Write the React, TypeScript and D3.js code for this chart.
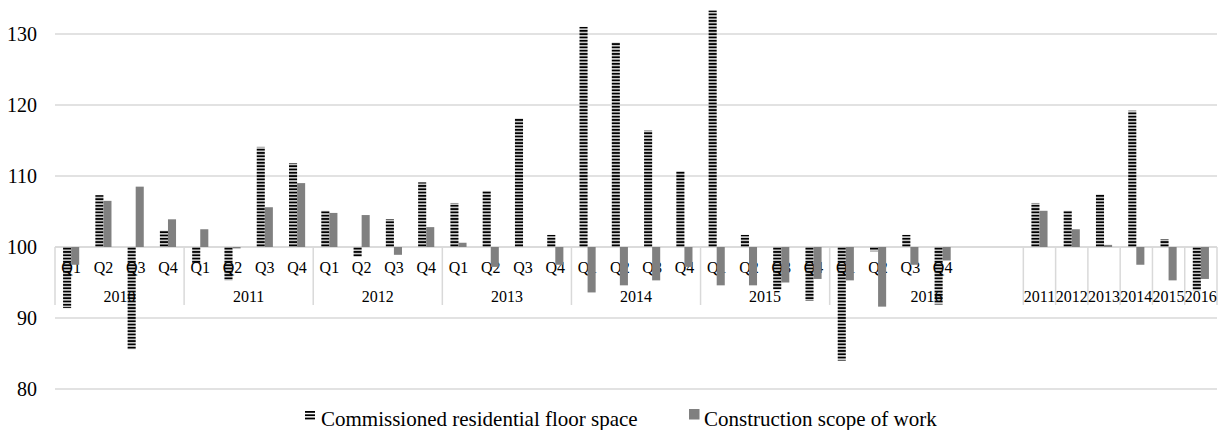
import React from "react";
import * as d3 from "d3";

const quarterLabels = ["Q1", "Q2", "Q3", "Q4"];
const quarterYears = ["2010", "2011", "2012", "2013", "2014", "2015", "2016"];
const annualYears = ["2011", "2012", "2013", "2014", "2015", "2016"];

// Quarterly indices (2010 Q1 ... 2016 Q4)
const commissionedQ = [
  91.4, 107.3, 85.6, 102.3,
  97.7, 95.3, 114.1, 111.8,
  105.1, 98.6, 103.9, 109.1,
  106.2, 107.9, 118.1, 101.7,
  131.0, 128.8, 116.4, 110.7,
  133.3, 101.7, 94.0, 92.4,
  84.0, 99.4, 101.7, 91.9,
];
const constructionQ = [
  97.5, 106.5, 108.5, 103.9,
  102.5, 99.8, 105.6, 109.0,
  104.8, 104.5, 98.9, 102.8,
  100.6, 97.2, 100.0, 97.5,
  93.6, 94.6, 95.3, 97.2,
  94.6, 94.6, 95.0, 95.5,
  95.3, 91.6, 97.5, 98.1,
];
// Annual indices 2011 ... 2016
const commissionedA = [106.2, 105.1, 107.4, 119.2, 101.1, 93.9];
const constructionA = [105.1, 102.5, 100.3, 97.5, 95.3, 95.5];

const yTicks = [80, 90, 100, 110, 120, 130];
const seriesNames = ["Commissioned residential floor space", "Construction scope of work"];
const blankSlots = 2;

type Cat = { id: string; q: string; v1: number | null; v2: number | null };

const cats: Cat[] = [];
quarterYears.forEach((yr, yi) => {
  quarterLabels.forEach((q, qi) => {
    const i = yi * 4 + qi;
    cats.push({ id: `${yr}-${q}`, q, v1: commissionedQ[i], v2: constructionQ[i] });
  });
});
for (let b = 0; b < blankSlots; b++) cats.push({ id: `blank-${b}`, q: "", v1: null, v2: null });
annualYears.forEach((yr, i) => {
  cats.push({ id: `A-${yr}`, q: "", v1: commissionedA[i], v2: constructionA[i] });
});

const TS = { fontFamily: "Liberation Serif" };

export default function App() {
  const W = 1222;
  const H = 430;
  const left = 55;
  const right = 1217;

  const x = d3.scaleBand<string>().domain(cats.map((c) => c.id)).range([left, right]).padding(0);
  const sub = d3
    .scaleBand<string>()
    .domain(["s1", "s2"])
    .range([0, x.bandwidth()])
    .paddingInner(0)
    .paddingOuter(1);
  const y = d3.scaleLinear().domain([80, 130]).range([389, 34]);
  const base = y(100);
  const step = x.step();
  const axisBottom = 305;

  // year groups
  const groups: { label: string; start: number; end: number }[] = [];
  quarterYears.forEach((yr, yi) => {
    const start = yi * 4;
    let end = start + 4;
    if (yi === quarterYears.length - 1) end += blankSlots;
    groups.push({ label: yr, start, end });
  });
  const annualStart = quarterYears.length * 4 + blankSlots;
  annualYears.forEach((yr, i) => {
    groups.push({ label: yr, start: annualStart + i, end: annualStart + i + 1 });
  });
  const sepIdx = Array.from(new Set(groups.flatMap((g) => [g.start, g.end])));

  const barRect = (v: number | null) => {
    if (v === null) return null;
    const y0 = Math.min(y(v), base);
    const h = Math.abs(y(v) - base);
    return { y: y0, h };
  };

  return (
    <svg width={W} height={H} style={{ position: "absolute", left: 0, top: 0, background: "#fff" }}>
      <defs>
        <pattern id="hstripe" patternUnits="userSpaceOnUse" width={8} height={3.3} y={base}>
          <rect width={8} height={2} y={0.65} fill="#000" />
        </pattern>
      </defs>

      {/* gridlines */}
      {yTicks.map((t) => (
        <line key={t} x1={left} x2={right} y1={y(t)} y2={y(t)} stroke="#d9d9d9" strokeWidth={1.5} />
      ))}
      {/* y tick labels */}
      {yTicks.map((t) => (
        <text key={`l${t}`} x={37} y={y(t) + 7} textAnchor="end" fontSize={20} fill="#000" style={TS}>
          {t}
        </text>
      ))}

      {/* category separators */}
      {sepIdx.map((i) => (
        <line
          key={`s${i}`}
          x1={left + i * step}
          x2={left + i * step}
          y1={base}
          y2={axisBottom}
          stroke="#d9d9d9"
          strokeWidth={1.5}
        />
      ))}

      {/* quarter labels */}
      {cats.map((c) =>
        c.q ? (
          <text
            key={`q${c.id}`}
            x={(x(c.id) as number) + step / 2}
            y={273}
            textAnchor="middle"
            fontSize={16}
            fill="#000"
            style={TS}
          >
            {c.q}
          </text>
        ) : null
      )}
      {/* group labels */}
      {groups.map((g) => (
        <text
          key={`g${g.label}${g.start}`}
          x={left + ((g.start + g.end) / 2) * step}
          y={302}
          textAnchor="middle"
          fontSize={16}
          fill="#000"
          style={TS}
        >
          {g.label}
        </text>
      ))}

      {/* axis line at 100 */}
      <line x1={left} x2={right} y1={base} y2={base} stroke="#d9d9d9" strokeWidth={1.5} />

      {/* bars */}
      {cats.map((c) => {
        const r1 = barRect(c.v1);
        const r2 = barRect(c.v2);
        const x0 = x(c.id) as number;
        return (
          <g key={`b${c.id}`}>
            {r1 && r1.h > 0 ? (
              <rect x={x0 + (sub("s1") as number)} y={r1.y} width={sub.bandwidth()} height={r1.h} fill="url(#hstripe)" />
            ) : null}
            {r2 && r2.h > 0 ? (
              <rect x={x0 + (sub("s2") as number)} y={r2.y} width={sub.bandwidth()} height={r2.h} fill="#808080" />
            ) : null}
          </g>
        );
      })}

      {/* legend */}
      <g>
        <rect x={305} y={411} width={10} height={1.8} fill="#000" />
        <rect x={305} y={414.3} width={10} height={1.8} fill="#000" />
        <rect x={305} y={417.6} width={10} height={1.8} fill="#000" />
        <text x={321} y={426} fontSize={21} fill="#000" style={TS}>
          {seriesNames[0]}
        </text>
        <rect x={689} y={409} width={10.5} height={10.5} fill="#808080" />
        <text x={704} y={426} fontSize={21} fill="#000" style={TS}>
          {seriesNames[1]}
        </text>
      </g>
    </svg>
  );
}
